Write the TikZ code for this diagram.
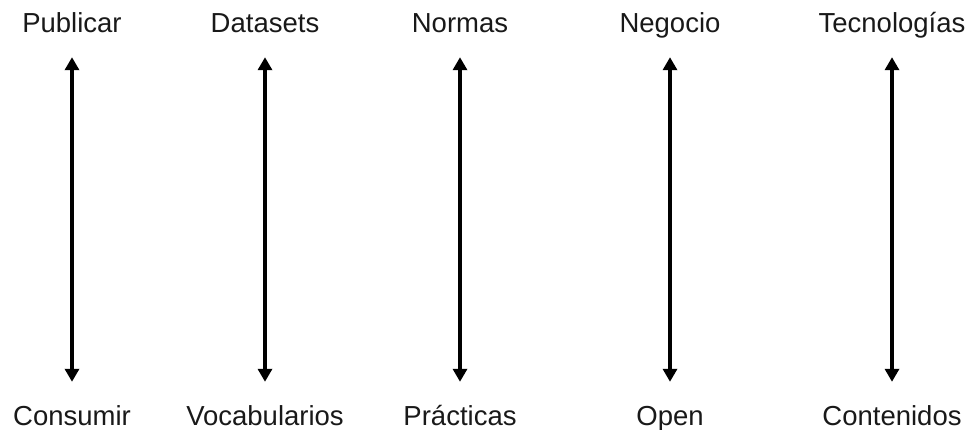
\documentclass[tikz,border=0pt]{standalone}
\usepackage{fontspec}
\setmainfont{Liberation Sans}
\usetikzlibrary{arrows.meta}

\begin{document}
\begin{tikzpicture}[x=1pt, y=1pt]
		    \tikzstyle{term}=[inner sep=0pt, anchor=base, text height=20pt, text depth=6pt,
		    font=\fontsize{27.5}{30}\selectfont, text=black!90]
		    \tikzstyle{axis}=[line width=3.4pt,
		    {Triangle[length=13pt,width=14pt]}-{Triangle[length=13pt,width=14pt]},
		    shorten <=18pt, shorten >=23pt]
		    \useasboundingbox (0,0) rectangle (974,-430);
		    % top row
		    \node [term] (pub) at (72,-33) {Publicar};
		    \node [term] (dat) at (265,-33) {Datasets};
		    \node [term] (nor) at (460,-33) {Normas};
		    \node [term] (neg) at (670,-33) {Negocio};
		    \node [term] (tec) at (892,-33) {Tecnologías};
		    % bottom row
		    \node [term] (con) at (72,-425) {Consumir};
		    \node [term] (voc) at (265,-425) {Vocabularios};
		    \node [term] (pra) at (460,-425) {Prácticas};
		    \node [term] (ope) at (670,-425) {Open};
		    \node [term] (cont) at (892,-425) {Contenidos};
		    % arrows
		    \draw [axis] (pub.south) -- (con.north);
		    \draw [axis] (dat.south) -- (voc.north);
		    \draw [axis] (nor.south) -- (pra.north);
		    \draw [axis] (neg.south) -- (ope.north);
		    \draw [axis] (tec.south) -- (cont.north);
	\end{tikzpicture}
\end{document}
